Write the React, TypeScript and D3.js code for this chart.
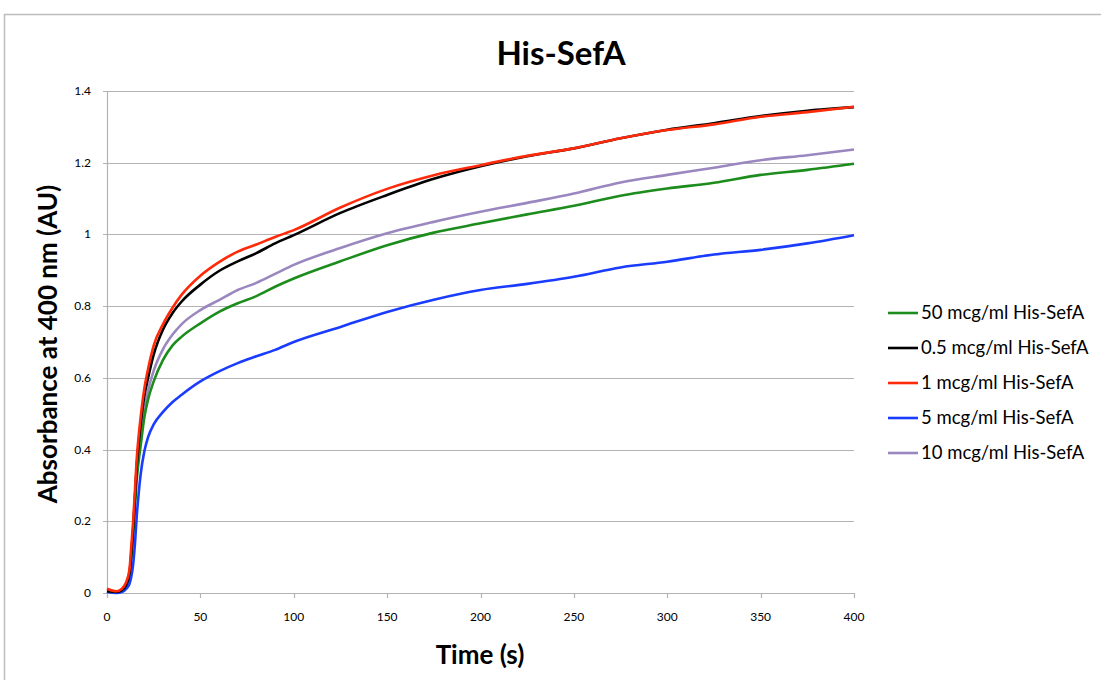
import React from "react";
import * as d3 from "d3";

const times = [0, 5, 8, 10, 12, 13, 14, 15, 16, 17, 18, 20, 22, 25, 30, 35, 40, 50, 60, 70, 80, 90, 100, 125, 150, 175, 200, 225, 250, 275, 300, 325, 350, 375, 400];

const green50 = [0.005, 0.002, 0.005, 0.017, 0.048, 0.095, 0.16, 0.245, 0.32, 0.37, 0.41, 0.49, 0.54, 0.59, 0.65, 0.69, 0.715, 0.752, 0.784, 0.808, 0.828, 0.854, 0.877, 0.925, 0.97, 1.005, 1.031, 1.056, 1.08, 1.108, 1.128, 1.144, 1.166, 1.18, 1.197];
const black05 = [0.005, 0.003, 0.008, 0.02, 0.055, 0.11, 0.18, 0.27, 0.36, 0.42, 0.47, 0.55, 0.6, 0.665, 0.735, 0.78, 0.813, 0.86, 0.898, 0.925, 0.948, 0.975, 0.998, 1.06, 1.11, 1.155, 1.19, 1.218, 1.24, 1.268, 1.292, 1.31, 1.33, 1.345, 1.355];
const red1 = [0.012, 0.005, 0.012, 0.027, 0.064, 0.13, 0.2, 0.29, 0.38, 0.44, 0.49, 0.57, 0.625, 0.69, 0.75, 0.795, 0.832, 0.885, 0.923, 0.952, 0.972, 0.993, 1.012, 1.075, 1.127, 1.165, 1.193, 1.219, 1.24, 1.268, 1.291, 1.307, 1.328, 1.341, 1.356];
const blue5 = [0.003, 0.0, 0.003, 0.01, 0.025, 0.045, 0.08, 0.14, 0.22, 0.28, 0.33, 0.395, 0.435, 0.47, 0.505, 0.532, 0.553, 0.59, 0.618, 0.641, 0.66, 0.678, 0.7, 0.742, 0.784, 0.818, 0.845, 0.862, 0.882, 0.908, 0.924, 0.944, 0.957, 0.975, 0.998];
const purple10 = [0.005, 0.002, 0.006, 0.018, 0.05, 0.1, 0.17, 0.26, 0.34, 0.39, 0.436, 0.51, 0.565, 0.62, 0.68, 0.72, 0.75, 0.789, 0.817, 0.845, 0.865, 0.89, 0.915, 0.962, 1.003, 1.035, 1.063, 1.088, 1.114, 1.145, 1.166, 1.186, 1.207, 1.221, 1.237];

const seriesNames = ["50 mcg/ml His-SefA", "0.5 mcg/ml His-SefA", "1 mcg/ml His-SefA", "5 mcg/ml His-SefA", "10 mcg/ml His-SefA"];
const seriesColors = ["#1c8c1c", "#000000", "#ff2a0a", "#1a3cff", "#9b87c0"];
const seriesValues = [green50, black05, red1, blue5, purple10];
// drawing order (back to front)
const drawOrder = [4, 0, 3, 1, 2];

const xTicks = [0, 50, 100, 150, 200, 250, 300, 350, 400];
const yTicks = [0, 0.2, 0.4, 0.6, 0.8, 1, 1.2, 1.4];

const W = 1101;
const H = 680;
const left = 107;
const right = 854;
const top = 91;
const bottom = 593;
const FONT = "Lato, 'Open Sans', sans-serif";

export default function App() {
  const x = d3.scaleLinear().domain([0, 400]).range([left, right]);
  const y = d3.scaleLinear().domain([0, 1.4]).range([bottom, top]);
  const line = d3
    .line<number>()
    .x((_, i) => x(times[i]))
    .y((d) => y(d))
    .curve(d3.curveMonotoneX);

  return (
    <svg width={W} height={H} style={{ position: "absolute", left: 0, top: 0, background: "#fff" }}>
      <rect x={4.5} y={14.5} width={W + 10} height={H + 10} fill="#fff" stroke="#bdbdbd" strokeWidth={1.5} />
      <text x={561} y={65} textAnchor="middle" fontFamily={FONT} fontWeight="bold" fontSize={33} fill="#000">
        His-SefA
      </text>
      {yTicks.map((t) => (
        <g key={"y" + t}>
          <line x1={left - 4} x2={right} y1={Math.round(y(t)) + 0.5} y2={Math.round(y(t)) + 0.5} stroke="#b3b3b3" strokeWidth={1.2} />
          <text x={91} y={y(t) + 4} textAnchor="end" fontFamily={FONT} fontSize={12} fill="#000">
            {d3.format("~g")(t)}
          </text>
        </g>
      ))}
      <line x1={left + 0.5} x2={left + 0.5} y1={top} y2={bottom} stroke="#b3b3b3" strokeWidth={1.2} />
      {xTicks.map((t) => (
        <g key={"x" + t}>
          <line x1={Math.round(x(t)) + 0.5} x2={Math.round(x(t)) + 0.5} y1={bottom} y2={bottom + 5} stroke="#b3b3b3" strokeWidth={1.2} />
          <text x={x(t)} y={621} textAnchor="middle" fontFamily={FONT} fontSize={12} fill="#000">
            {t}
          </text>
        </g>
      ))}
      {drawOrder.map((i) => (
        <path key={"s" + i} d={line(seriesValues[i]) || ""} fill="none" stroke={seriesColors[i]} strokeWidth={2.6} strokeLinejoin="round" />
      ))}
      <text x={480} y={664} textAnchor="middle" fontFamily={FONT} fontWeight="bold" fontSize={26} fill="#000">
        Time (s)
      </text>
      <text transform={`translate(57,344) rotate(-90)`} textAnchor="middle" fontFamily={FONT} fontWeight="bold" fontSize={26} fill="#000">
        Absorbance at 400 nm (AU)
      </text>
      {seriesNames.map((n, i) => (
        <g key={"l" + i}>
          <line x1={888} x2={918} y1={313 + i * 35} y2={313 + i * 35} stroke={seriesColors[i]} strokeWidth={2.6} />
          <text x={921} y={313 + i * 35 + 6} fontFamily={FONT} fontSize={18.5} fill="#000">
            {n}
          </text>
        </g>
      ))}
    </svg>
  );
}
